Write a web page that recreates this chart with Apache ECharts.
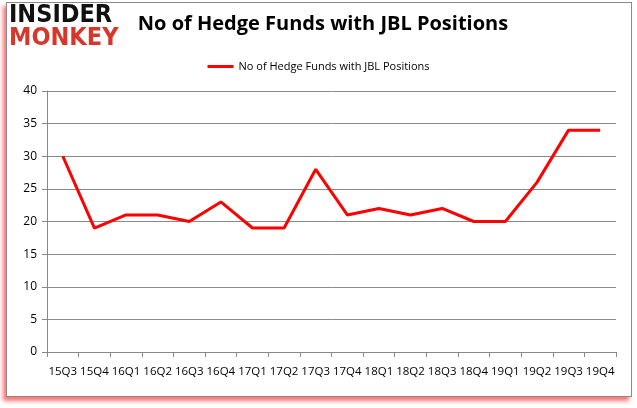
<!DOCTYPE html>
<html><head><meta charset="utf-8">
<script src="https://cdn.jsdelivr.net/npm/echarts@6/dist/echarts.min.js"></script>
<style>
html,body{margin:0;padding:0;background:#fff;}
#frame{position:absolute;left:6px;top:2px;width:624px;height:393px;border:1px solid #8a8a8a;box-shadow:-3px 4px 4px rgba(255,0,0,0.55);background:#fff;}
#c{position:absolute;left:0;top:0;width:637px;height:408px;}
</style></head>
<body>
<div id="frame"></div>
<div id="c"></div>
<script>
const categories = ['15Q3','15Q4','16Q1','16Q2','16Q3','16Q4','17Q1','17Q2','17Q3','17Q4','18Q1','18Q2','18Q3','18Q4','19Q1','19Q2','19Q3','19Q4'];
const seriesName = 'No of Hedge Funds with JBL Positions';
const values = [30,19,21,21,20,23,19,19,28,21,22,21,22,20,20,26,34,34];
const yTicks = {min:0, max:40, interval:5};

const chart = echarts.init(document.getElementById('c'), null, {renderer:'canvas'});
chart.setOption({
  animation:false,
  backgroundColor:'transparent',
  title:{text:'No of Hedge Funds with JBL Positions', left:318, top:9, textAlign:'center',
    textStyle:{fontFamily:'Open Sans', fontWeight:'bold', fontSize:20, color:'#000'}},
  legend:{data:[seriesName], top:56, left:'center', itemWidth:26, itemHeight:3, icon:'rect',
    textStyle:{fontFamily:'Open Sans', fontSize:11, color:'#000'}},
  graphic:[
    {type:'text', left:9, top:3, style:{text:'INSIDER', fontFamily:'DejaVu Sans Condensed', fontWeight:'900', fontSize:25, fill:'#111'}},
    {type:'text', left:9, top:26, style:{text:'MONKEY', fontFamily:'DejaVu Sans Condensed', fontWeight:'900', fontSize:25, fill:'#d8362a'}}
  ],
  grid:{left:47, right:21, top:91, bottom:56},
  xAxis:{type:'category', data:categories, boundaryGap:true,
    axisLine:{lineStyle:{color:'#888', width:1}},
    axisTick:{show:true, length:5, interval:0, lineStyle:{color:'#888'}},
    axisLabel:{interval:0, margin:14, fontFamily:'Open Sans', fontSize:11.5, color:'#000'}},
  yAxis:{type:'value', min:yTicks.min, max:yTicks.max, interval:yTicks.interval,
    axisLine:{show:true, lineStyle:{color:'#888'}},
    axisTick:{show:true, length:5, lineStyle:{color:'#888'}},
    splitLine:{lineStyle:{color:'#8a8a8a', width:1}},
    axisLabel:{margin:10, fontFamily:'Open Sans', fontSize:12, color:'#000'}},
  series:[{name:seriesName, type:'line', data:values, symbol:'none',
    lineStyle:{color:'#ff0000', width:3}, itemStyle:{color:'#ff0000'}}]
});
</script>
</body></html>
